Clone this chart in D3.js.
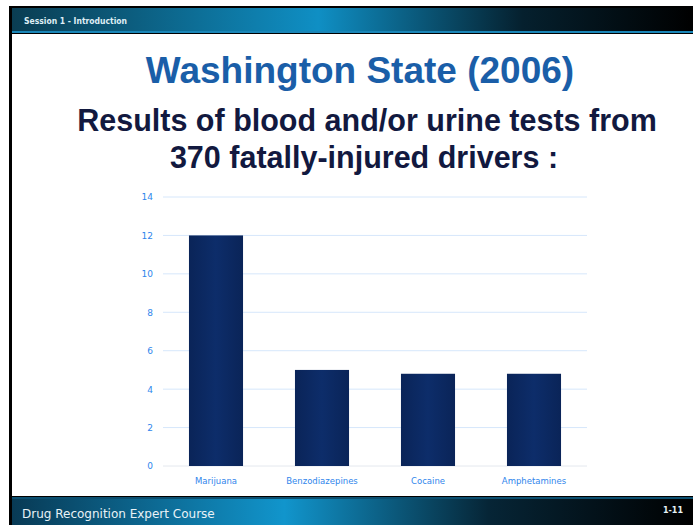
<!DOCTYPE html>
<html>
<head>
<meta charset="utf-8">
<script src="https://cdn.jsdelivr.net/npm/d3@7"></script>
<style>
  body { margin: 0; background: #fff; }
  svg { display: block; }
</style>
</head>
<body>
<script>
// chart data
var categories = ["Marijuana", "Benzodiazepines", "Cocaine", "Amphetamines"];
var values = [12, 5, 4.8, 4.8];
var yTicks = [0, 2, 4, 6, 8, 10, 12, 14];

var W = 693, H = 525;
var svg = d3.select("body").append("svg")
    .attr("width", W)
    .attr("height", H);

var defs = svg.append("defs");

// header / footer gradients
var hg = defs.append("linearGradient").attr("id", "hdr");
hg.append("stop").attr("offset", "0%").attr("stop-color", "#0a3d52");
hg.append("stop").attr("offset", "45%").attr("stop-color", "#0f8fc4");
hg.append("stop").attr("offset", "75%").attr("stop-color", "#05202e");
hg.append("stop").attr("offset", "100%").attr("stop-color", "#000");

var fg = defs.append("linearGradient").attr("id", "ftr");
fg.append("stop").attr("offset", "0%").attr("stop-color", "#083a55");
fg.append("stop").attr("offset", "40%").attr("stop-color", "#1195cc");
fg.append("stop").attr("offset", "70%").attr("stop-color", "#062536");
fg.append("stop").attr("offset", "100%").attr("stop-color", "#000");

var bg = defs.append("linearGradient").attr("id", "bar")
    .attr("x1", 0).attr("x2", 1).attr("y1", 0).attr("y2", 0);
bg.append("stop").attr("offset", "0%").attr("stop-color", "#0a2458");
bg.append("stop").attr("offset", "50%").attr("stop-color", "#0d2d6a");
bg.append("stop").attr("offset", "100%").attr("stop-color", "#0a2458");

// slide frame
svg.append("rect").attr("x", 9).attr("y", 6).attr("width", W - 9).attr("height", H - 6)
    .attr("fill", "#000");
svg.append("rect").attr("x", 12).attr("y", 34).attr("width", W - 12).attr("height", 462)
    .attr("fill", "#fff");

// header bar
svg.append("rect").attr("x", 12).attr("y", 8).attr("width", W - 12).attr("height", 24)
    .attr("fill", "url(#hdr)");
svg.append("rect").attr("x", 12).attr("y", 31).attr("width", W - 12).attr("height", 2)
    .attr("fill", "#1a86b8");
svg.append("text").attr("x", 24).attr("y", 24)
    .attr("fill", "#dfeef5")
    .style("font-family", "'DejaVu Sans Condensed', 'DejaVu Sans', sans-serif")
    .style("font-size", "8.5px")
    .style("font-weight", "bold")
    .text("Session 1 - Introduction");

// footer bar
svg.append("rect").attr("x", 12).attr("y", 497).attr("width", W - 12).attr("height", 28)
    .attr("fill", "url(#ftr)");
svg.append("rect").attr("x", 12).attr("y", 497).attr("width", W - 12).attr("height", 2)
    .attr("fill", "#0b4f70");
svg.append("text").attr("x", 22).attr("y", 518)
    .attr("fill", "#e8f2f7")
    .style("font-family", "'DejaVu Sans', sans-serif")
    .style("font-size", "12px")
    .text("Drug Recognition Expert Course");
svg.append("text").attr("x", 683).attr("y", 513)
    .attr("text-anchor", "end")
    .attr("fill", "#e8f2f7")
    .style("font-family", "'DejaVu Sans', sans-serif")
    .style("font-size", "8px")
    .style("font-weight", "bold")
    .text("1-11");

// titles
svg.append("text").attr("x", 360).attr("y", 83)
    .attr("text-anchor", "middle")
    .attr("fill", "#1a5ea8")
    .style("font-family", "'Liberation Sans', Arial, sans-serif")
    .style("font-weight", "bold")
    .style("font-size", "37px")
    .text("Washington State (2006)");
svg.append("text").attr("x", 367).attr("y", 131)
    .attr("text-anchor", "middle")
    .attr("fill", "#12193f")
    .style("font-family", "'Liberation Sans', Arial, sans-serif")
    .style("font-weight", "bold")
    .style("font-size", "30.5px")
    .text("Results of blood and/or urine tests from");
svg.append("text").attr("x", 364).attr("y", 168)
    .attr("text-anchor", "middle")
    .attr("fill", "#12193f")
    .style("font-family", "'Liberation Sans', Arial, sans-serif")
    .style("font-weight", "bold")
    .style("font-size", "30.5px")
    .text("370 fatally-injured drivers :");

// chart
var x = d3.scaleBand()
    .domain(categories)
    .range([163, 587])
    .paddingInner(0.49)
    .paddingOuter(0.245);

var y = d3.scaleLinear()
    .domain([0, 14])
    .range([466, 197]);

// gridlines
svg.append("g")
    .selectAll("line")
    .data(yTicks.slice(1))
    .enter().append("line")
    .attr("x1", 163).attr("x2", 587)
    .attr("y1", function(d) { return y(d); })
    .attr("y2", function(d) { return y(d); })
    .attr("stroke", "#d6e7fb")
    .attr("stroke-width", 1);

// y axis labels
var yAxis = svg.append("g")
    .attr("transform", "translate(163,0)")
    .call(d3.axisLeft(y).tickValues(yTicks).tickSize(0).tickPadding(10));
yAxis.select(".domain").remove();
yAxis.selectAll("text")
    .attr("fill", "#2f86ec")
    .style("font-family", "'DejaVu Sans', sans-serif")
    .style("font-size", "9px");

// baseline
svg.append("line")
    .attr("x1", 163).attr("x2", 587)
    .attr("y1", y(0)).attr("y2", y(0))
    .attr("stroke", "#e4e8ee");

// bars
svg.append("g")
    .selectAll("rect")
    .data(values)
    .enter().append("rect")
    .attr("x", function(d, i) { return x(categories[i]); })
    .attr("y", function(d) { return y(d); })
    .attr("width", x.bandwidth())
    .attr("height", function(d) { return y(0) - y(d); })
    .attr("fill", "url(#bar)");

// x axis labels
var xAxis = svg.append("g")
    .attr("transform", "translate(0," + y(0) + ")")
    .call(d3.axisBottom(x).tickSize(0).tickPadding(12));
xAxis.select(".domain").remove();
xAxis.selectAll("text")
    .attr("fill", "#2f86ec")
    .style("font-family", "'DejaVu Sans', sans-serif")
    .style("font-size", "8.5px");
</script>
</body>
</html>
